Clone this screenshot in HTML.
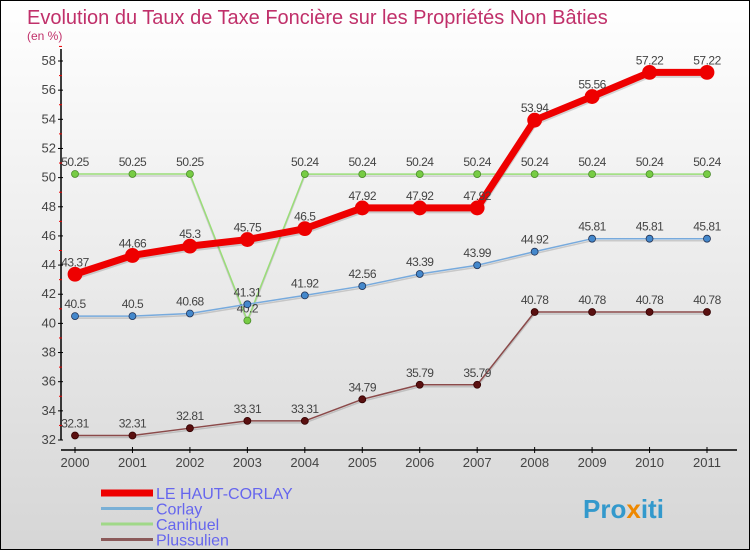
<!DOCTYPE html>
<html><head><meta charset="utf-8"><style>
body{margin:0}
#c{width:748px;height:548px;border:1px solid #000;background:linear-gradient(#fff,#d6d6d6);position:relative;font-family:"Liberation Sans",sans-serif;overflow:hidden}
</style></head><body>
<div id="c">
<svg id="s" width="748" height="548" xmlns="http://www.w3.org/2000/svg" style="position:absolute;left:0;top:0">
<text x="26" y="23" font-size="20" fill="#c0306a">Evolution du Taux de Taxe Foncière sur les Propriétés Non Bâties</text>
<text x="26" y="39" font-size="12" fill="#c0306a">(en %)</text>
</svg>
</div>
<script>
const years=[2000,2001,2002,2003,2004,2005,2006,2007,2008,2009,2010,2011];
const yTicks=[32,34,36,38,40,42,44,46,48,50,52,54,56,58];
const haut=[43.37,44.66,45.3,45.75,46.5,47.92,47.92,47.92,53.94,55.56,57.22,57.22];
const corlay=[40.5,40.5,40.68,41.31,41.92,42.56,43.39,43.99,44.92,45.81,45.81,45.81];
const canihuel=[50.25,50.25,50.25,40.2,50.24,50.24,50.24,50.24,50.24,50.24,50.24,50.24];
const plussulien=[32.31,32.31,32.81,33.31,33.31,34.79,35.79,35.79,40.78,40.78,40.78,40.78];
const seriesNames=["LE HAUT-CORLAY","Corlay","Canihuel","Plussulien"];
const s=document.getElementById('s');const NS="http://www.w3.org/2000/svg";
const X=i=>74+i*(632/(years.length-1));
const Y=v=>439-(v-32)*(379/26);
function mk(t,a,p){const e=document.createElementNS(NS,t);for(const k in a)e.setAttribute(k,a[k]);(p||s).appendChild(e);return e;}
let ax=mk('line',{x1:60,y1:Y(58)-12,x2:60,y2:Y(32),stroke:'#000','stroke-width':1.5});

let xa=mk('line',{x1:60,y1:449,x2:736,y2:449,stroke:'#000','stroke-width':1.5});

yTicks.forEach(v=>{mk('line',{x1:57,y1:Y(v),x2:62,y2:Y(v),stroke:'#000'});
mk('line',{x1:58,y1:Y(v+1),x2:61,y2:Y(v+1),stroke:'#e00'});
const t=mk('text',{x:55,y:Y(v)+4,'font-size':13,fill:'#444','text-anchor':'end'});t.textContent=v;
});
years.forEach((y,i)=>{mk('line',{x1:X(i),y1:446,x2:X(i),y2:452,stroke:'#000'});
const t=mk('text',{x:X(i),y:466,'font-size':13,fill:'#444','text-anchor':'middle'});t.textContent=y;
});
function series(d,name,col,w,dot,r,dc){
const g=mk('g',{});
mk('polyline',{points:d.map((v,i)=>X(i)+','+(Y(v)+2)).join(' '),fill:'none',stroke:'rgba(0,0,0,0.15)','stroke-width':w},g);
mk('polyline',{points:d.map((v,i)=>X(i)+','+Y(v)).join(' '),fill:'none',stroke:col,'stroke-width':w,'stroke-linejoin':'round'},g);
d.forEach((v,i)=>{const c=mk('circle',{cx:X(i),cy:Y(v),r:r,fill:dot,stroke:dc,'stroke-width':0.8},g);

const t=mk('text',{x:X(i),y:Y(v)-8,'font-size':12,fill:'#444','text-anchor':'middle','letter-spacing':'-0.5'},g);t.textContent=v;
});}
series(plussulien,'plussulien','#8b4a4a',1.5,'#5a1010',3.5,'#300');
series(canihuel,'canihuel','#99dd77',1.5,'#77cc44',3.5,'#4a8a2a');
series(corlay,'corlay','#77aadd',1.5,'#4488cc',3.5,'#235');
series(haut,'le-haut-corlay','#ee0000',7,'#ee0000',7,'#e00');
const cols=['#ee0000','#7ab0d6','#a0d888','#8b5a5a'],ws=[7,3,3,3];
seriesNames.forEach((n,i)=>{const y=492+i*15.5;const g=mk('g',{});

mk('line',{x1:100,y1:y,x2:152,y2:y,stroke:cols[i],'stroke-width':ws[i]},g);
const t=mk('text',{x:155,y:y+6,'font-size':16,fill:'#6666ee'},g);t.textContent=n;});
const p=mk('text',{x:582,y:517,'font-size':26,'font-weight':'bold'});

[['Pro','#3399cc'],['x','#ee8800'],['iti','#3399cc']].forEach(([t,c])=>{const ts=mk('tspan',{fill:c},p);ts.textContent=t;});
</script>
</body></html>
